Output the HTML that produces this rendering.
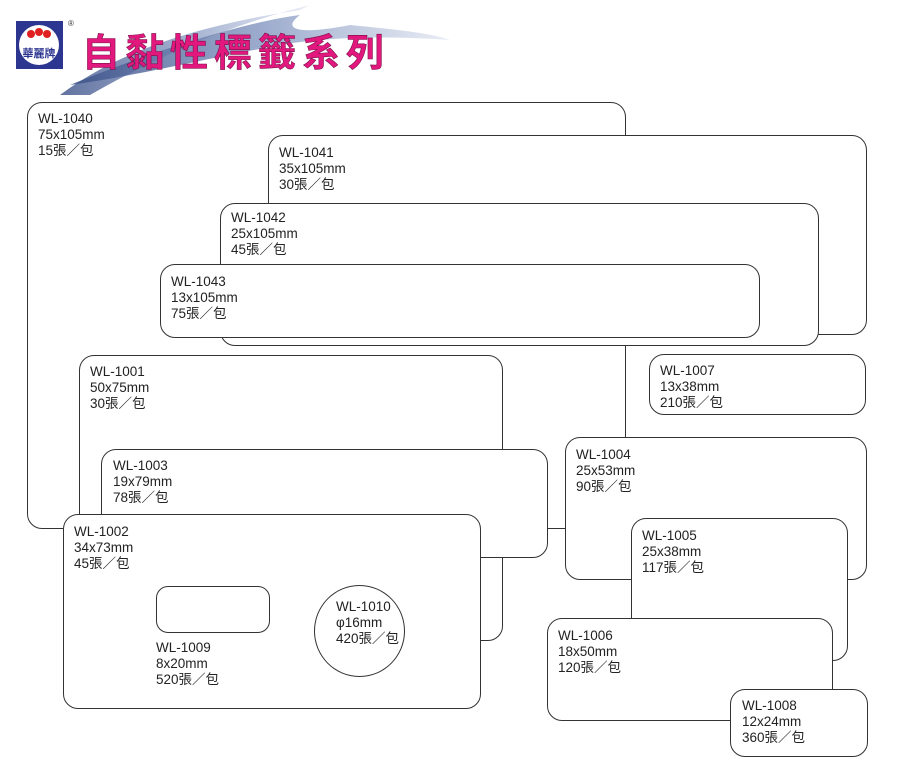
<!DOCTYPE html>
<html><head><meta charset="utf-8"><style>
body{margin:0;width:900px;height:771px;background:#fff;position:relative;overflow:hidden;font-family:"Liberation Sans","Noto Sans CJK TC",sans-serif;}
.b{position:absolute;box-sizing:border-box;border:1px solid #333;border-radius:15px;background:#fff;}
.t{position:absolute;font-size:13.5px;line-height:16px;color:#222;white-space:nowrap;}
</style></head><body>
<svg style="position:absolute;left:0;top:0" width="900" height="100">
<defs><linearGradient id="g" x1="0" x2="1"><stop offset="0" stop-color="#3a5088"/><stop offset="0.5" stop-color="#8a9cc4"/><stop offset="1" stop-color="#e6eaf3"/></linearGradient></defs>
<path d="M60 95 C120 50 200 25 300 10 L310 5 C230 25 160 55 90 95 Z" fill="url(#g)" opacity="0.8"/>
<path d="M70 85 C180 40 260 20 300 15 C280 30 300 35 350 25 C400 30 430 33 450 40 C380 35 320 38 280 45 C200 60 140 75 70 85 Z" fill="url(#g)" opacity="0.85"/>
<rect x="16" y="21" width="47" height="48" fill="#2c3590"/>
<circle cx="39" cy="45" r="20" fill="#fff"/>
<circle cx="31" cy="34" r="4" fill="#e02020"/><circle cx="39" cy="32" r="4" fill="#e02020"/><circle cx="47" cy="34" r="4" fill="#e02020"/>
<text x="39" y="57" font-size="11" text-anchor="middle" fill="#2c3590" font-weight="bold" font-family="Noto Sans CJK TC">華麗牌</text>
<text x="68" y="26" font-size="8" fill="#333">®</text>
<text x="82" y="66" font-size="38" font-weight="bold" fill="#e2187f" letter-spacing="6" font-family="Noto Sans CJK TC" stroke="#7a1048" stroke-width="0.6">自黏性標籤系列</text>
</svg>

<div class="b" style="left:27px;top:102px;width:599px;height:427px"></div>
<div class="t" style="left:38px;top:111px">WL-1040<br>75x105mm<br>15張／包</div>
<div class="b" style="left:268px;top:135px;width:599px;height:200px"></div>
<div class="t" style="left:279px;top:145px">WL-1041<br>35x105mm<br>30張／包</div>
<div class="b" style="left:220px;top:203px;width:599px;height:143px"></div>
<div class="t" style="left:231px;top:210px">WL-1042<br>25x105mm<br>45張／包</div>
<div class="b" style="left:160px;top:264px;width:600px;height:74px"></div>
<div class="t" style="left:171px;top:274px">WL-1043<br>13x105mm<br>75張／包</div>

<div class="b" style="left:79px;top:355px;width:424px;height:286px"></div>
<div class="t" style="left:90px;top:364px">WL-1001<br>50x75mm<br>30張／包</div>
<div class="b" style="left:101px;top:449px;width:447px;height:109px"></div>
<div class="t" style="left:113px;top:458px">WL-1003<br>19x79mm<br>78張／包</div>
<div class="b" style="left:63px;top:514px;width:418px;height:195px"></div>
<div class="t" style="left:74px;top:524px">WL-1002<br>34x73mm<br>45張／包</div>
<div class="b" style="left:156px;top:586px;width:114px;height:47px;border-radius:12px"></div>
<div class="t" style="left:156px;top:640px">WL-1009<br>8x20mm<br>520張／包</div>
<div class="b" style="left:314px;top:585px;width:91px;height:92px;border-radius:50%"></div>
<div class="t" style="left:336px;top:599px">WL-1010<br>φ16mm<br>420張／包</div>

<div class="b" style="left:649px;top:354px;width:217px;height:61px"></div>
<div class="t" style="left:660px;top:363px">WL-1007<br>13x38mm<br>210張／包</div>
<div class="b" style="left:565px;top:437px;width:302px;height:143px"></div>
<div class="t" style="left:576px;top:447px">WL-1004<br>25x53mm<br>90張／包</div>
<div class="b" style="left:631px;top:518px;width:217px;height:143px"></div>
<div class="t" style="left:642px;top:528px">WL-1005<br>25x38mm<br>117張／包</div>
<div class="b" style="left:547px;top:618px;width:286px;height:103px"></div>
<div class="t" style="left:558px;top:628px">WL-1006<br>18x50mm<br>120張／包</div>
<div class="b" style="left:730px;top:689px;width:138px;height:68px"></div>
<div class="t" style="left:742px;top:698px">WL-1008<br>12x24mm<br>360張／包</div>
</body></html>
